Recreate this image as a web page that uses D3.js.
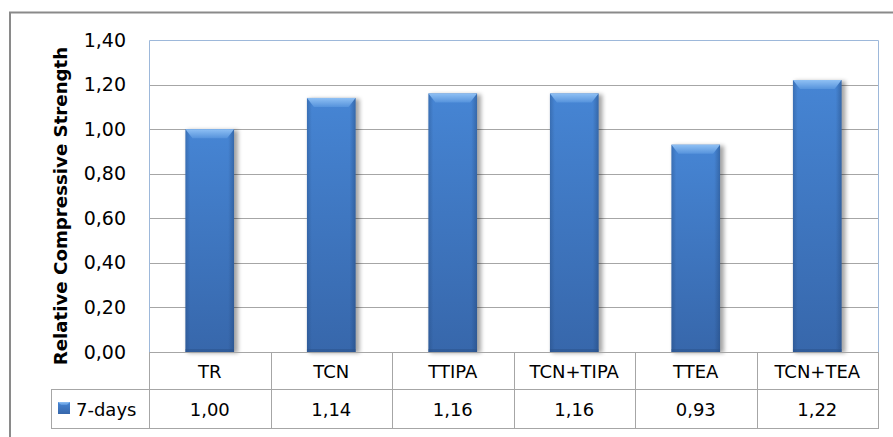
<!DOCTYPE html>
<html>
<head>
<meta charset="utf-8">
<script src="https://cdn.jsdelivr.net/npm/d3@7"></script>
<style>
  body { margin: 0; background: #fff; }
  svg { display: block; font-family: "DejaVu Sans", sans-serif; }
</style>
</head>
<body>
<div id="chart"></div>
<script>
const categories = ['TR', 'TCN', 'TTIPA', 'TCN+TIPA', 'TTEA', 'TCN+TEA']
const values7days = [1.00, 1.14, 1.16, 1.16, 0.93, 1.22]
const yTicks = [0, 0.2, 0.4, 0.6, 0.8, 1.0, 1.2, 1.4]
const seriesName = '7-days'
const yTitle = 'Relative Compressive Strength'

const width = 893, height = 437
const plotLeft = 149, plotRight = 878, plotTop = 40, plotBottom = 352
const row1 = 389, row2 = 428, legendLeft = 51

const locale = d3.formatLocale({decimal: ',', thousands: '.', grouping: [3], currency: ['', '']})
const fmt = locale.format('.2f')

const svg = d3.select('#chart')
  .append('svg')
  .attr('width', width)
  .attr('height', height)

const defs = svg.append('defs')

const body = defs.append('linearGradient').attr('id', 'barBody')
  .attr('x1', 0).attr('y1', 0).attr('x2', 0).attr('y2', 1)
body.append('stop').attr('offset', '0%').attr('stop-color', '#4685d4')
body.append('stop').attr('offset', '100%').attr('stop-color', '#3767ab')

const side = defs.append('linearGradient').attr('id', 'barSide')
  .attr('x1', 0).attr('y1', 0).attr('x2', 1).attr('y2', 0)
side.append('stop').attr('offset', '0%').attr('stop-color', '#1e3f6e').attr('stop-opacity', 0.3)
side.append('stop').attr('offset', '10%').attr('stop-color', '#1e3f6e').attr('stop-opacity', 0)
side.append('stop').attr('offset', '88%').attr('stop-color', '#1e3f6e').attr('stop-opacity', 0)
side.append('stop').attr('offset', '100%').attr('stop-color', '#1e3f6e').attr('stop-opacity', 0.4)

const bevel = defs.append('linearGradient').attr('id', 'barTop')
  .attr('x1', 0).attr('y1', 0).attr('x2', 0).attr('y2', 1)
bevel.append('stop').attr('offset', '0%').attr('stop-color', '#8fc0f4')
bevel.append('stop').attr('offset', '100%').attr('stop-color', '#5693dc')

defs.append('filter').attr('id', 'shadow')
  .attr('x', '-20%').attr('y', '-5%').attr('width', '150%').attr('height', '115%')
  .append('feGaussianBlur').attr('stdDeviation', 2)

// outer frame
svg.append('rect')
  .attr('x', 10).attr('y', 12.5)
  .attr('width', 900).attr('height', 440)
  .attr('fill', 'none')
  .attr('stroke', '#8a8a8a')
  .attr('stroke-width', 2)

const yScale = d3.scaleLinear()
  .domain([0, 1.4])
  .range([plotBottom, plotTop])

const xScale = d3.scaleBand()
  .domain(categories)
  .range([plotLeft, plotRight])
  .paddingInner(0.6)
  .paddingOuter(0.3)

const step = xScale.step()

// gridlines
svg.append('g')
  .selectAll('line')
  .data(yTicks.filter(d => d > 0 && d < 1.4))
  .enter()
  .append('line')
  .attr('x1', plotLeft).attr('x2', plotRight)
  .attr('y1', d => Math.round(yScale(d)) + 0.5)
  .attr('y2', d => Math.round(yScale(d)) + 0.5)
  .attr('stroke', '#a6a6a6')

// plot area border
svg.append('path')
  .attr('d', `M${plotLeft + 0.5},${plotBottom} V${plotTop + 0.5} H${plotRight + 0.5} V${plotBottom}`)
  .attr('fill', 'none')
  .attr('stroke', '#9db8da')

// y axis labels
const yAxis = d3.axisLeft(yScale)
  .tickValues(yTicks)
  .tickFormat(fmt)
  .tickSize(0)
  .tickPadding(0)
const yg = svg.append('g')
  .attr('transform', 'translate(126,0)')
  .call(yAxis)
yg.select('.domain').remove()
yg.selectAll('text')
  .attr('font-family', '"DejaVu Sans", sans-serif')
  .attr('font-size', 19)
  .attr('fill', '#000')

svg.append('text')
  .text(yTitle)
  .attr('transform', `translate(67,206) rotate(-90)`)
  .attr('text-anchor', 'middle')
  .attr('font-size', 18.2)
  .attr('font-weight', 'bold')
  .attr('fill', '#000')

// bars
const bw = xScale.bandwidth()
const bars = svg.append('g')
  .selectAll('g')
  .data(categories.map((c, i) => ({c, v: values7days[i]})))
  .enter()
  .append('g')
  .attr('transform', d => `translate(${xScale(d.c)},${yScale(d.v)})`)

bars.append('rect')
  .attr('x', 2).attr('y', 1)
  .attr('width', bw + 2)
  .attr('height', d => plotBottom - yScale(d.v))
  .attr('fill', '#000')
  .attr('opacity', 0.35)
  .attr('filter', 'url(#shadow)')

bars.append('rect')
  .attr('width', bw)
  .attr('height', d => plotBottom - yScale(d.v))
  .attr('fill', 'url(#barBody)')

bars.append('rect')
  .attr('width', bw)
  .attr('height', d => plotBottom - yScale(d.v))
  .attr('fill', 'url(#barSide)')

bars.append('path')
  .attr('d', `M0,0 H${bw} L${bw - 7},9 H7 Z`)
  .attr('fill', 'url(#barTop)')

bars.append('rect')
  .attr('y', d => plotBottom - yScale(d.v) - 3)
  .attr('width', bw)
  .attr('height', 3)
  .attr('fill', '#2a528a')
  .attr('opacity', 0.5)

// data table
const table = svg.append('g')
const gridColor = '#a6a6a6'

table.append('line')
  .attr('x1', plotLeft).attr('x2', plotRight + 0.5)
  .attr('y1', plotBottom + 0.5).attr('y2', plotBottom + 0.5)
  .attr('stroke', gridColor)
table.append('line')
  .attr('x1', legendLeft).attr('x2', plotRight + 0.5)
  .attr('y1', row1 + 0.5).attr('y2', row1 + 0.5)
  .attr('stroke', gridColor)
table.append('line')
  .attr('x1', legendLeft).attr('x2', plotRight + 0.5)
  .attr('y1', row2 + 0.5).attr('y2', row2 + 0.5)
  .attr('stroke', gridColor)
table.append('line')
  .attr('x1', legendLeft + 0.5).attr('x2', legendLeft + 0.5)
  .attr('y1', row1).attr('y2', row2 + 1)
  .attr('stroke', gridColor)

const colEdges = categories.map(c => xScale(c) - step * xScale.paddingOuter())
colEdges.push(plotRight)
table.selectAll('line.col')
  .data(colEdges)
  .enter()
  .append('line')
  .attr('class', 'col')
  .attr('x1', d => Math.round(d) + 0.5).attr('x2', d => Math.round(d) + 0.5)
  .attr('y1', plotBottom).attr('y2', row2 + 1)
  .attr('stroke', gridColor)

table.selectAll('text.cat')
  .data(categories)
  .enter()
  .append('text')
  .attr('class', 'cat')
  .text(d => d)
  .attr('x', d => xScale(d) + bw / 2)
  .attr('y', (plotBottom + row1) / 2 + 7)
  .attr('text-anchor', 'middle')
  .attr('font-size', 18)

table.selectAll('text.val')
  .data(values7days)
  .enter()
  .append('text')
  .attr('class', 'val')
  .text(d => fmt(d))
  .attr('x', (d, i) => xScale(categories[i]) + bw / 2)
  .attr('y', (row1 + row2) / 2 + 7)
  .attr('text-anchor', 'middle')
  .attr('font-size', 18)

// legend key
const key = table.append('g').attr('transform', `translate(58,402)`)
key.append('rect').attr('width', 12).attr('height', 12).attr('fill', 'url(#barBody)')
key.append('path').attr('d', 'M0,0 H12 L9,3 H3 Z').attr('fill', 'url(#barTop)')
table.append('text')
  .text(seriesName)
  .attr('x', 76)
  .attr('y', (row1 + row2) / 2 + 7)
  .attr('font-size', 18)
</script>
</body>
</html>
